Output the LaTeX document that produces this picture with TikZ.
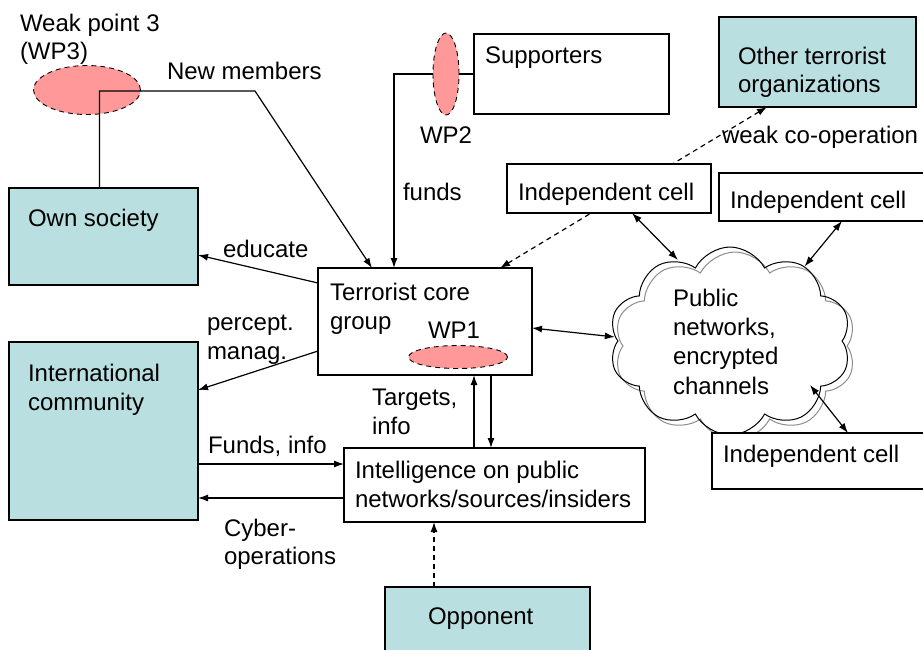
\documentclass[tikz,border=0pt]{standalone}
\usepackage{fontspec}
\setmainfont{Liberation Sans}
\usetikzlibrary{arrows.meta,shapes.symbols,shapes.geometric}
\definecolor{cellteal}{RGB}{185,223,225}
\definecolor{weakpink}{RGB}{255,153,153}
\begin{document}
\begin{tikzpicture}[x=1pt,y=-1pt,
  font=\fontsize{24}{29}\selectfont,
  frame/.style={draw=black, line width=1.2pt, anchor=north west, inner sep=0pt, outer sep=0pt},
  tealframe/.style={frame, fill=cellteal},
  whiteframe/.style={frame, fill=white},
  lbl/.style={anchor=base west, inner sep=0pt, outer sep=0pt},
  link/.style={line width=1.2pt, -{Latex[length=10pt,width=7pt]}},
  dlink/.style={line width=1.2pt, {Latex[length=10pt,width=7pt]}-{Latex[length=10pt,width=7pt]}},
  dashline/.style={dash pattern=on 5pt off 4pt},
  weak/.style={ellipse, draw=black, dashline, fill=weakpink, line width=0.9pt, inner sep=0pt, outer sep=0pt},
  puffy/.style={cloud, cloud puffs=10, cloud puff arc=125, line width=1pt,
      minimum width=242pt, minimum height=188pt, inner sep=0pt}]
\useasboundingbox (0,0) rectangle (923,649);
\clip (0,0) rectangle (923,649);

% ---- boxes ----
\node[tealframe, minimum width=189pt, minimum height=97pt] (own) at (9,188) {};
\node[tealframe, minimum width=189pt, minimum height=178pt] (intl) at (9,342) {};
\node[frame, minimum width=214pt, minimum height=107pt] (core) at (318,268) {};
\node[frame, minimum width=301pt, minimum height=74pt] (intel) at (344,448) {};
\node[tealframe, minimum width=205pt, minimum height=100pt] (opp) at (385,587) {};
\node[frame, minimum width=195pt, minimum height=80pt] (supp) at (474,34) {};
\node[tealframe, minimum width=197pt, minimum height=90pt] (other) at (719,17) {};

% ---- cloud of public networks ----
\node[puffy, draw=black!45, shape border rotate=12] (cloudb) at (735,346) {};
\node[puffy, draw=black] (cloud) at (730,341) {};

% dashed co-operation link runs behind the first independent cell
\draw[dlink, dashline] ([xshift=-50.5pt]other.south) -- ([xshift=75pt]core.north);

\node[whiteframe, minimum width=204pt, minimum height=49pt] (cell1) at (507,164) {};
\node[whiteframe, minimum width=240pt, minimum height=48pt] (cell2) at (719,173) {};
\node[whiteframe, minimum width=240pt, minimum height=56pt] (cell3) at (712,433) {};

% ---- weak point 3 and recruitment line ----
\node[weak, minimum width=107pt, minimum height=49pt] (wp3) at (87,90) {};
\coordinate (nmbend) at (255,91);
\draw[link] ([xshift=-4pt]own.north) |- (nmbend) -- ([xshift=54pt]core.north west);

% ---- supporters funding line with weak point 2 ----
\draw[link] (supp.west) -| ([xshift=76pt]core.north west);
\node[weak, minimum width=26pt, minimum height=82pt] (wp2) at (446,74) {};

% ---- weak point 1 ----
\node[weak, minimum width=99pt, minimum height=23pt] (wp1) at (458,357) {};

% ---- connectors ----
\draw[link] ([yshift=-15pt]core.north west) -- ([yshift=-18.5pt]own.east);
\draw[link] ([yshift=24pt]core.south west) -- ([yshift=41pt]intl.east);
\draw[link] ([yshift=-33pt]intl.east) -- ([yshift=21pt]intel.west);
\draw[link] ([yshift=-13pt]intel.west) -- ([yshift=-67pt]intl.east);
\draw[link] ([xshift=-20.5pt]intel.north) -- ([xshift=49pt]core.south);
\draw[link] ([xshift=66pt]core.south) -- ([xshift=-3.5pt]intel.north);
\draw[link, dashline] ([xshift=-53.5pt]opp.north) -- ([xshift=-60.5pt]intel.south);
\draw[dlink] ([yshift=-6.5pt]core.east) -- (cloud.178);
\draw[dlink] ([xshift=125pt]cell1.south west) -- ([shift={(-52pt,81pt)}]cloud.center);
\draw[dlink] ([xshift=123pt]cell2.south west) -- (cloud.45);
\draw[dlink] ([shift={(80pt,-44pt)}]cloud.center) -- ([xshift=136pt]cell3.north west);

% ---- texts ----
\node[lbl] (twp3a) at (20,31) {Weak point 3};
\node[lbl] (twp3b) at (20,59) {(WP3)};
\node[lbl] (tnew) at (167,79) {New members};
\node[lbl] (town) at (28,226) {Own society};
\node[lbl] (tedu) at (223,257) {educate};
\node[lbl] (tcore1) at (330,300) {Terrorist core};
\node[lbl] (tcore2) at (330,329) {group};
\node[lbl] (twp1) at (428,338) {WP1};
\node[lbl] (tperc1) at (207,330) {percept.};
\node[lbl] (tperc2) at (207,359) {manag.};
\node[lbl] (tintl1) at (28,381) {International};
\node[lbl] (tintl2) at (28,410) {community};
\node[lbl] (ttarg1) at (372,405) {Targets,};
\node[lbl] (ttarg2) at (372,434) {info};
\node[lbl] (tfund) at (208,453) {Funds, info};
\node[lbl] (tintel1) at (355,478) {Intelligence on public};
\node[lbl] (tintel2) at (355,507) {networks/sources/insiders};
\node[lbl] (tcyb1) at (224,536) {Cyber-};
\node[lbl] (tcyb2) at (224,564) {operations};
\node[lbl] (topp) at (428,624) {Opponent};
\node[lbl] (tsupp) at (485,63) {Supporters};
\node[anchor=base, inner sep=0pt] (twp2) at (446,143) {WP2};
\node[lbl] (tfunds) at (403,200) {funds};
\node[lbl] (tother1) at (738,64) {Other terrorist};
\node[lbl] (tother2) at (738,92) {organizations};
\node[lbl] (tweak) at (722,143) {weak co-operation};
\node[lbl] (tcell1) at (518,200) {Independent cell};
\node[lbl] (tcell2) at (730,208) {Independent cell};
\node[lbl] (tcell3) at (723,462) {Independent cell};
\node[lbl] (tcl1) at (673,306) {Public};
\node[lbl] (tcl2) at (673,335) {networks,};
\node[lbl] (tcl3) at (673,364) {encrypted};
\node[lbl] (tcl4) at (673,394) {channels};
\end{tikzpicture}
\end{document}
